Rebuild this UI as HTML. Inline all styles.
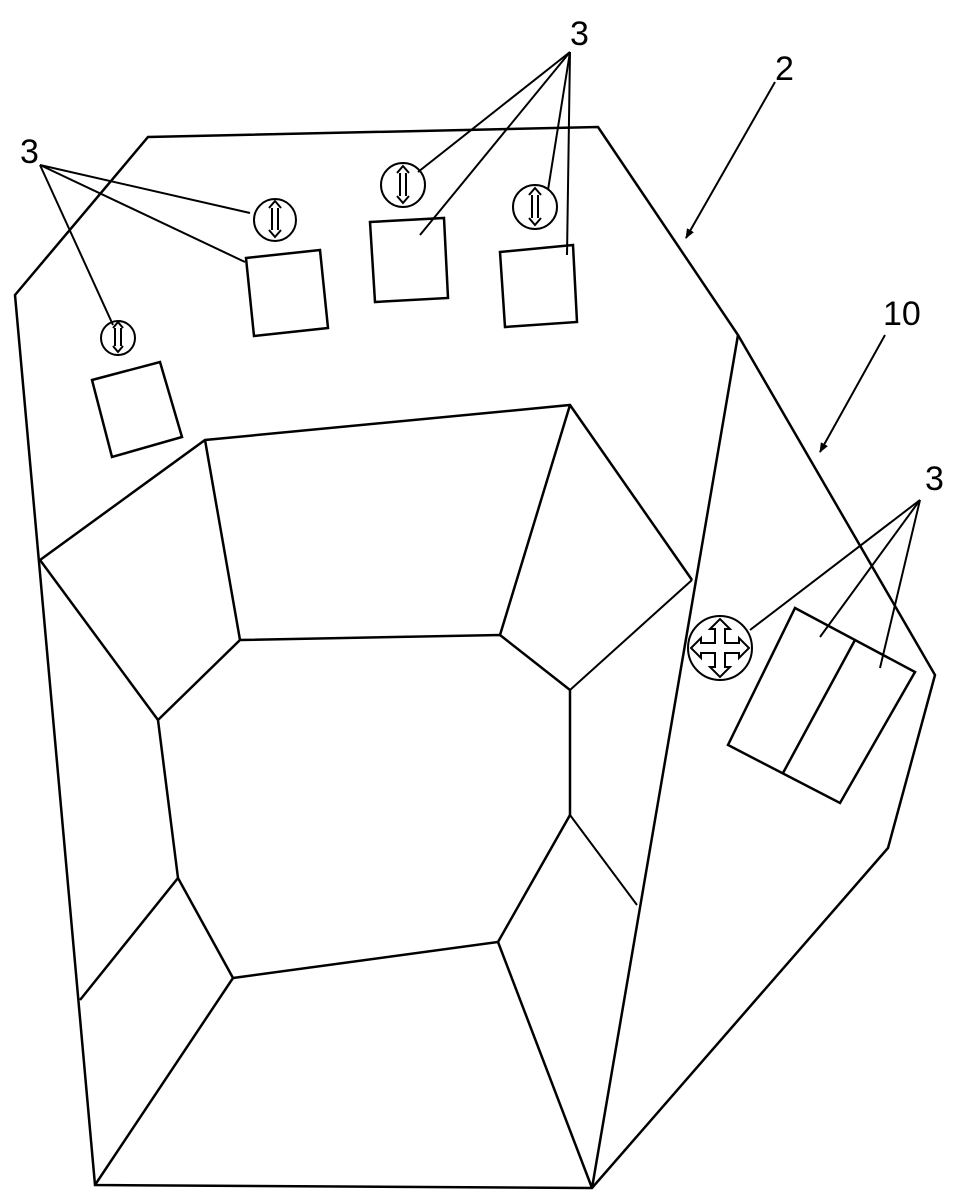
<!DOCTYPE html>
<html><head><style>body{margin:0;background:#fff}svg{display:block}</style></head><body>
<svg width="957" height="1200" viewBox="0 0 957 1200" xmlns="http://www.w3.org/2000/svg">
<defs><marker id="ah" markerWidth="10" markerHeight="10" refX="9" refY="5" orient="auto" markerUnits="userSpaceOnUse"><path d="M0,1 L10,5 L0,9 Z" fill="#000"/></marker></defs>
<g fill="none" stroke="#000" stroke-width="2.5" stroke-linejoin="miter">
<polygon points="15,295 148,137 598,127 738,335 935,675 888,848 592,1188 95,1185"/>
<line x1="738" y1="335" x2="592" y2="1188"/>
<polyline points="40,560 205,440 570,405 692,580"/>
<line x1="40" y1="560" x2="158" y2="720"/>
<line x1="205" y1="440" x2="240" y2="640"/>
<line x1="570" y1="405" x2="500" y2="635"/>
<polyline points="158,720 240,640 500,635 570,690 570,815 498,942 233,978 178,878 158,720"/>
<line x1="570" y1="690" x2="692" y2="580" stroke-width="2"/>
<line x1="570" y1="815" x2="637" y2="905" stroke-width="2"/>
<line x1="498" y1="942" x2="592" y2="1188"/>
<line x1="233" y1="978" x2="95" y2="1185"/>
<line x1="178" y1="878" x2="80" y2="1000"/>
<polygon points="92,380 160,362 182,437 112,457"/>
<polygon points="246,258 320,250 328,328 254,336"/>
<polygon points="370,222 444,218 448,298 375,302"/>
<polygon points="500,252 573,245 577,322 505,327"/>
<polygon points="795,608 915,672 840,803 728,745"/>
<line x1="855" y1="640" x2="783" y2="773"/>
</g>
<g fill="none" stroke="#000" stroke-width="2">
<circle cx="118" cy="338" r="17"/>
<circle cx="275" cy="220" r="21"/>
<circle cx="403" cy="185" r="22"/>
<circle cx="535" cy="207" r="22"/>
<circle cx="720" cy="648" r="32"/>
<g stroke-width="2">
<path d="M113,328 l5,-6 l5,6 M115,328 v18 M121,328 v18 M113,346 l5,6 l5,-6"/>
<path d="M269,208 l6,-7 l6,7 M272,208 v22 M278,208 v22 M269,230 l6,7 l6,-7"/>
<path d="M397,173 l6,-7 l6,7 M400,173 v23 M406,173 v23 M397,196 l6,7 l6,-7"/>
<path d="M529,195 l6,-7 l6,7 M532,195 v23 M538,195 v23 M529,218 l6,7 l6,-7"/>
<path d="M715,643 v-14 h-5 l10,-10 l10,10 h-5 v14 h14 v-5 l10,10 l-10,10 v-5 h-14 v14 h5 l-10,10 l-10,-10 h5 v-14 h-14 v5 l-10,-10 l10,-10 v5 z"/>
</g>
</g>
<g stroke="#000" stroke-width="2">
<line x1="40" y1="165" x2="250" y2="213"/>
<line x1="40" y1="165" x2="245" y2="262"/>
<line x1="40" y1="165" x2="113" y2="325"/>
<line x1="570" y1="52" x2="418" y2="172"/>
<line x1="570" y1="52" x2="420" y2="235"/>
<line x1="570" y1="52" x2="548" y2="190"/>
<line x1="570" y1="52" x2="567" y2="255"/>
<line x1="920" y1="500" x2="750" y2="630"/>
<line x1="920" y1="500" x2="820" y2="637"/>
<line x1="920" y1="500" x2="880" y2="668"/>
<line x1="775" y1="82" x2="686" y2="238" marker-end="url(#ah)"/>
<line x1="885" y1="335" x2="820" y2="452" marker-end="url(#ah)"/>
</g>
<g font-family="Liberation Sans, sans-serif" font-size="34" fill="#000">
<text x="20" y="163">3</text>
<text x="570" y="45">3</text>
<text x="925" y="490">3</text>
<text x="775" y="80">2</text>
<text x="883" y="325">10</text>
</g>
</svg>
</body></html>
